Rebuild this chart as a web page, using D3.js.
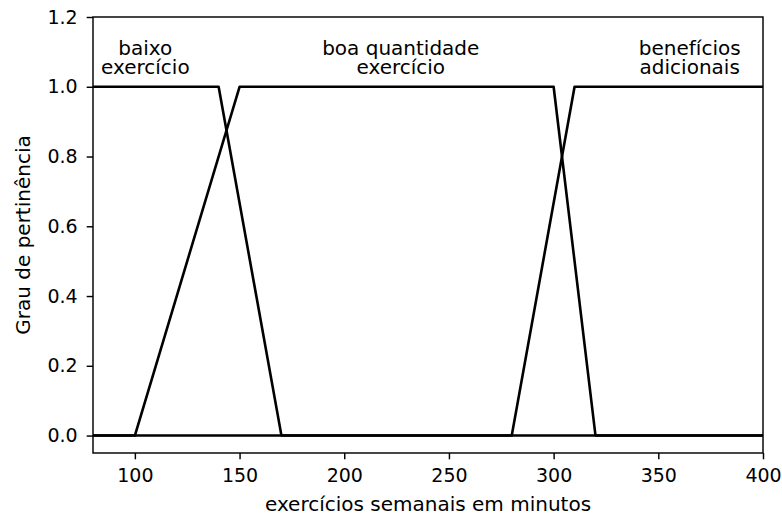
<!DOCTYPE html>
<html>
<head>
<meta charset="utf-8">
<script src="https://cdn.jsdelivr.net/npm/d3@7"></script>
<style>
  html, body { margin: 0; padding: 0; background: #fff; }
  svg { display: block; }
  text { font-family: "DejaVu Sans", sans-serif; fill: #000; }
</style>
</head>
<body>
<div id="chart"></div>
<script>
// Membership functions (x breakpoints, membership values)
const baixoX = [80, 140, 170, 400];
const baixoY = [1, 1, 0, 0];
const boaX = [80, 100, 150, 300, 320, 400];
const boaY = [0, 0, 1, 1, 0, 0];
const beneficiosX = [80, 280, 310, 400];
const beneficiosY = [0, 0, 1, 1];

// Annotations
const labelLines = [["baixo", "exercício"], ["boa quantidade", "exercício"], ["benefícios", "adicionais"]];
const labelX = [105, 227, 365];
const labelY = [1.1, 1.1, 1.1];

// Ticks
const xTicks = [100, 150, 200, 250, 300, 350, 400];
const yTicks = [0.0, 0.2, 0.4, 0.6, 0.8, 1.0, 1.2];

const W = 782, H = 516;
const mLeft = 93, mRight = 763, mTop = 17, mBottom = 453;

const x = d3.scaleLinear().domain([80, 400]).range([mLeft, mRight]);
const y = d3.scaleLinear().domain([-0.05, 1.2]).range([mBottom, mTop]);

const svg = d3.select("#chart").append("svg").attr("width", W).attr("height", H);

const line = d3.line().x(d => x(d[0])).y(d => y(d[1]));
const series = [
  d3.zip(baixoX, baixoY),
  d3.zip(boaX, boaY),
  d3.zip(beneficiosX, beneficiosY)
];
svg.append("g")
  .selectAll("path").data(series).join("path")
  .attr("d", line)
  .attr("fill", "none")
  .attr("stroke", "#000")
  .attr("stroke-width", 2.6)
  .attr("stroke-linejoin", "round");

// Axes
const xAxis = d3.axisBottom(x).tickValues(xTicks).tickFormat(d3.format("d")).tickSize(6.3).tickPadding(9.5);
const yAxis = d3.axisLeft(y).tickValues(yTicks).tickFormat(d3.format(".1f")).tickSize(6.3).tickPadding(9);

const gx = svg.append("g").attr("transform", `translate(0,${mBottom})`).call(xAxis);
const gy = svg.append("g").attr("transform", `translate(${mLeft},0)`).call(yAxis);
[gx, gy].forEach(g => {
  g.select(".domain").remove();
  g.selectAll(".tick line").attr("stroke", "#000").attr("stroke-width", 1.45);
  g.selectAll(".tick text").attr("font-size", 19).attr("font-family", "DejaVu Sans").attr("fill", "#000");
});

// Frame (spines)
svg.append("rect")
  .attr("x", mLeft).attr("y", mTop)
  .attr("width", mRight - mLeft).attr("height", mBottom - mTop)
  .attr("fill", "none").attr("stroke", "#000").attr("stroke-width", 1.45);

// Annotations
labelLines.forEach((lines, i) => {
  const t = svg.append("text")
    .attr("text-anchor", "middle")
    .attr("font-size", 20)
    .attr("x", x(labelX[i]))
    .attr("y", y(labelY[i]) + 3);
  lines.forEach((s, j) => {
    t.append("tspan").attr("x", x(labelX[i])).attr("dy", j === 0 ? 0 : 19.5).text(s);
  });
});

// Axis labels
svg.append("text")
  .attr("text-anchor", "middle")
  .attr("font-size", 20)
  .attr("x", (mLeft + mRight) / 2)
  .attr("y", 511)
  .text("exercícios semanais em minutos");

svg.append("text")
  .attr("text-anchor", "middle")
  .attr("font-size", 20)
  .attr("transform", `translate(29.5,${(mTop + mBottom) / 2}) rotate(-90)`)
  .text("Grau de pertinência");
</script>
</body>
</html>
